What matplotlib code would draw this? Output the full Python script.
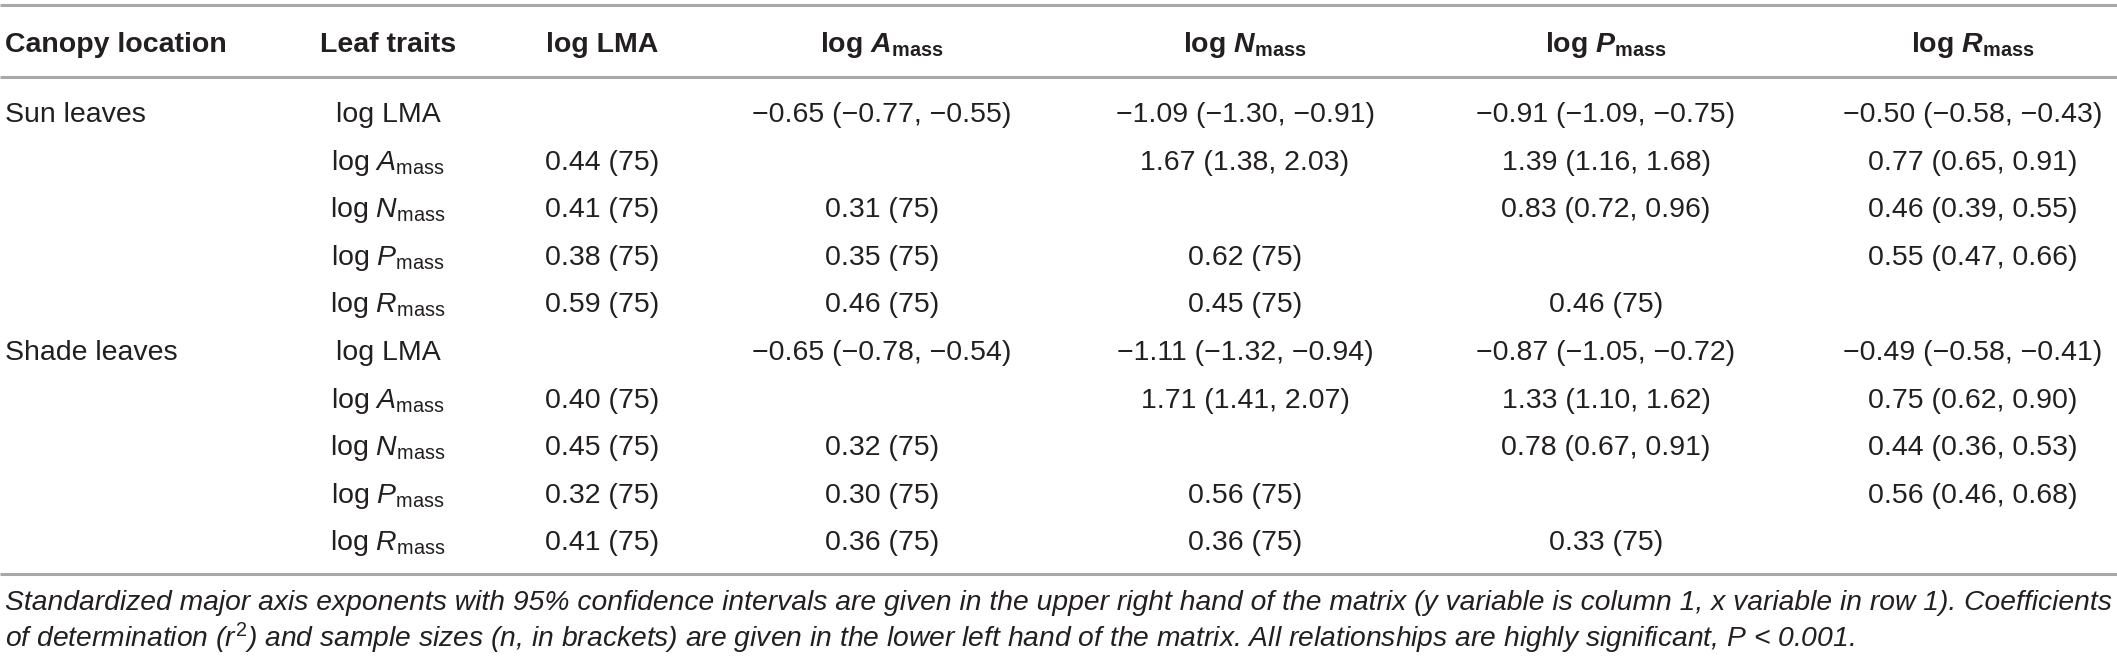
import matplotlib
matplotlib.use('Agg')
import matplotlib.pyplot as plt

plt.rcParams['font.family'] = ['Liberation Sans', 'DejaVu Sans']
plt.rcParams['mathtext.fontset'] = 'custom'
plt.rcParams['mathtext.rm'] = 'Liberation Sans'
plt.rcParams['mathtext.it'] = 'Liberation Sans:italic'
plt.rcParams['mathtext.bf'] = 'Liberation Sans:bold'
plt.rcParams['mathtext.bfit'] = 'Liberation Sans:bold:italic'

# ---------------- data ----------------
header_labels = ['Canopy location', 'Leaf traits', 'log LMA',
                 r'log $\mathbfit{A}_{\mathbf{mass}}$',
                 r'log $\mathbfit{N}_{\mathbf{mass}}$',
                 r'log $\mathbfit{P}_{\mathbf{mass}}$',
                 r'log $\mathbfit{R}_{\mathbf{mass}}$']
trait_labels = ['log LMA',
                r'log $\mathit{A}_{\mathrm{mass}}$',
                r'log $\mathit{N}_{\mathrm{mass}}$',
                r'log $\mathit{P}_{\mathrm{mass}}$',
                r'log $\mathit{R}_{\mathrm{mass}}$']
canopy_labels = ['Sun leaves', 'Shade leaves']
sample_size = 75

# lower-left: coefficients of determination (r2)
sun_r2 = [[], [0.44], [0.41, 0.31], [0.38, 0.35, 0.62], [0.59, 0.46, 0.45, 0.46]]
shade_r2 = [[], [0.40], [0.45, 0.32], [0.32, 0.30, 0.56], [0.41, 0.36, 0.36, 0.33]]

# upper-right: SMA exponent (lower CI, upper CI)
sun_sma = [[(-0.65, -0.77, -0.55), (-1.09, -1.30, -0.91), (-0.91, -1.09, -0.75), (-0.50, -0.58, -0.43)],
           [(1.67, 1.38, 2.03), (1.39, 1.16, 1.68), (0.77, 0.65, 0.91)],
           [(0.83, 0.72, 0.96), (0.46, 0.39, 0.55)],
           [(0.55, 0.47, 0.66)],
           []]
shade_sma = [[(-0.65, -0.78, -0.54), (-1.11, -1.32, -0.94), (-0.87, -1.05, -0.72), (-0.49, -0.58, -0.41)],
             [(1.71, 1.41, 2.07), (1.33, 1.10, 1.62), (0.75, 0.62, 0.90)],
             [(0.78, 0.67, 0.91), (0.44, 0.36, 0.53)],
             [(0.56, 0.46, 0.68)],
             []]

footnote_lines = [
    'Standardized major axis exponents with 95% confidence intervals are given in the upper right hand of the matrix '
    '(y variable is column 1, x variable in row 1). Coefficients',
    r'of determination ($r^{2}$) and sample sizes (n, in brackets) are given in the lower left hand of the matrix. '
    r'All relationships are highly significant, P < 0.001.',
]

# ---------------- layout ----------------
W, H = 2117, 660
TEXT = '#231f20'
RULE = '#a8a8a8'
FS = 20.5
col_x = [5, 388, 602, 882, 1245, 1606, 1973]
header_base = 52
row_base0, row_step = 122, 47.6
rules_y = [5, 77, 574]
foot_base = [610, 647]
foot_x0, foot_x1 = 5, 2110


def fmt(v):
    return f'{v:.2f}'.replace('-', '\u2212')


fig = plt.figure(figsize=(W / 100, H / 100), dpi=100)
ax = fig.add_axes([0, 0, 1, 1])
ax.set_xlim(0, W)
ax.set_ylim(H, 0)
ax.axis('off')

ax.hlines(rules_y, 0, W, color=RULE, lw=2.2)

for j, lab in enumerate(header_labels):
    ax.text(col_x[j], header_base, lab, ha='left' if j == 0 else 'center', va='baseline',
            fontsize=FS, fontweight='bold', color=TEXT)

row = 0
for g, (canopy, r2, sma) in enumerate(zip(canopy_labels, [sun_r2, shade_r2], [sun_sma, shade_sma])):
    for i, trait in enumerate(trait_labels):
        y = row_base0 + row_step * row
        if i == 0:
            ax.text(col_x[0], y, canopy, ha='left', va='baseline', fontsize=FS, color=TEXT)
        ax.text(col_x[1], y, trait, ha='center', va='baseline', fontsize=FS, color=TEXT)
        for j in range(5):
            if j < i:
                s = f'{fmt(r2[i][j])} ({sample_size})'
            elif j > i:
                e, lo, hi = sma[i][j - i - 1]
                s = f'{fmt(e)} ({fmt(lo)}, {fmt(hi)})'
            else:
                continue
            ax.text(col_x[2 + j], y, s, ha='center', va='baseline', fontsize=FS, color=TEXT)
        row += 1

# footnote: fit first line to the table width
foot_texts = [ax.text(foot_x0, yb, line, ha='left', va='baseline', fontsize=FS, style='italic', color=TEXT)
              for yb, line in zip(foot_base, footnote_lines)]
fig.canvas.draw()
r = fig.canvas.get_renderer()
wpx = foot_texts[0].get_window_extent(r).width
fs_foot = FS * (foot_x1 - foot_x0) / wpx
for t in foot_texts:
    t.set_fontsize(fs_foot)

fig.savefig('out.png', dpi=100)
